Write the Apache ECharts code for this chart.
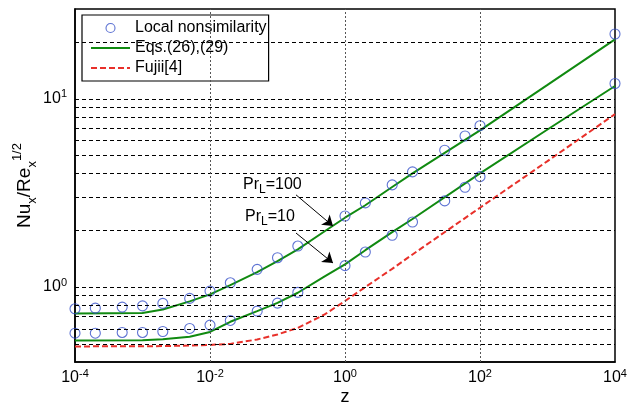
<!DOCTYPE html>
<html><head><meta charset="utf-8">
<script src="https://cdn.jsdelivr.net/npm/echarts@6/dist/echarts.min.js"></script>
<style>html,body{margin:0;padding:0;background:#fff}#c{width:627px;height:406px}</style>
</head><body><div id="c"></div>
<script>
// ---- data ----
const zCurve   = [1e-4, 1e-3, 2e-3, 5e-3, 1e-2, 2e-2, 5e-2, 0.1, 0.2, 0.5, 1, 2, 5, 10, 100, 1000, 10000];
const eqPr100  = [0.725, 0.728, 0.76, 0.84, 0.915, 1.025, 1.20, 1.375, 1.587, 1.98, 2.336, 2.72, 3.40, 4.02, 6.8, 11.85, 20.7];
const eqPr10   = [0.52, 0.522, 0.528, 0.545, 0.578, 0.654, 0.745, 0.825, 0.933, 1.14, 1.32, 1.57, 1.96, 2.3, 4.02, 6.87, 11.7];
const fujii    = [0.484, 0.485, 0.486, 0.489, 0.493, 0.499, 0.527, 0.56, 0.607, 0.716, 0.843, 1.0, 1.25, 1.49, 2.64, 4.67, 8.29];

const zPts     = [1e-4, 2e-4, 5e-4, 1e-3, 2e-3, 5e-3, 1e-2, 2e-2, 5e-2, 0.1, 0.2, 1, 2, 5, 10, 30, 60, 100, 10000];
const locPr100 = [0.767, 0.773, 0.783, 0.795, 0.819, 0.871, 0.952, 1.054, 1.242, 1.432, 1.652, 2.385, 2.80, 3.49, 4.09, 5.33, 6.35, 7.2, 22.1];
const locPr10  = [0.569, 0.569, 0.574, 0.574, 0.581, 0.603, 0.628, 0.665, 0.745, 0.822, 0.937, 1.30, 1.535, 1.884, 2.217, 2.87, 3.39, 3.86, 12.06];

const yGridValues = [0.5, 0.6, 0.7, 0.8, 0.9, 1, 2, 3, 4, 5, 6, 7, 8, 9, 10, 20];
const xGridValues = [1e-2, 1, 1e2];

// arrows: [from(z, Nu), to(z, Nu)]
const arrows = [
  [[0.188, 3.09], [0.664, 2.11]],
  [[0.188, 1.937], [0.664, 1.342]]
];

const FONT = 'Liberation Sans, Arial, Helvetica, sans-serif';
const zip = (xs, ys) => xs.map((x, i) => [x, ys[i]]);

function powLabel(v, evenOnly) {
  const e = Math.log10(v), r = Math.round(e);
  if (Math.abs(e - r) > 1e-6) return '';
  if (evenOnly && r % 2 !== 0) return '';
  return '10{sup|' + r + '}';
}

const chart = echarts.init(document.getElementById('c'), null, {renderer: 'canvas'});
const supRich = {sup: {fontSize: 11, lineHeight: 10, verticalAlign: 'top', fontFamily: FONT, color: '#000'}};
const hideSym = {color: 'transparent', borderWidth: 0, opacity: 0};

chart.setOption({
  animation: false,
  backgroundColor: '#fff',
  textStyle: {fontFamily: FONT},
  grid: {left: 75, right: 12, top: 9, bottom: 44, containLabel: false, outerBoundsMode: 'none',
         show: true, borderColor: '#000', borderWidth: 1.5, backgroundColor: 'transparent'},
  legend: {
    orient: 'vertical', left: 82, top: 15,
    padding: [4, 2, 4, 8], itemGap: 2, itemWidth: 39, itemHeight: 9,
    backgroundColor: '#fff', borderColor: '#000', borderWidth: 1.2,
    textStyle: {fontSize: 16, lineHeight: 18, color: '#000', fontFamily: FONT},
    data: [
      {name: 'Local nonsimilarity', icon: 'circle', itemStyle: {color: 'transparent', borderColor: '#3650c8', borderWidth: 1.1}},
      {name: 'Eqs.(26),(29)', itemStyle: hideSym},
      {name: 'Fujii[4]', itemStyle: hideSym}
    ],
    selectedMode: false
  },
  xAxis: {
    type: 'log', logBase: 10, min: 1e-4, max: 1e4,
    name: 'z', nameLocation: 'middle', nameGap: 26, nameMoveOverlap: false,
    nameTextStyle: {fontSize: 18, color: '#000', fontFamily: FONT},
    axisLine: {lineStyle: {color: '#000', width: 1.5}},
    axisTick: {show: false},
    splitLine: {show: false},
    axisLabel: {
      color: '#000', fontSize: 16, lineHeight: 20, margin: 6, fontFamily: FONT,
      formatter: v => powLabel(v, true), rich: supRich
    }
  },
  yAxis: {
    type: 'log', logBase: 10, min: 0.4, max: 30,
    name: 'Nu{sub|x}/Re{sub|x}{sup|1/2}', nameLocation: 'middle', nameGap: 36, nameMoveOverlap: false,
    nameTextStyle: {
      fontSize: 19, lineHeight: 28, color: '#000', fontFamily: FONT,
      rich: {
        sub: {fontSize: 13, lineHeight: 12, verticalAlign: 'bottom', fontFamily: FONT, color: '#000'},
        sup: {fontSize: 13, lineHeight: 12, verticalAlign: 'top', fontFamily: FONT, color: '#000'}
      }
    },
    axisLine: {lineStyle: {color: '#000', width: 1.5}},
    axisTick: {show: false},
    splitLine: {show: false},
    axisLabel: {
      color: '#000', fontSize: 16, lineHeight: 20, margin: 8, fontFamily: FONT,
      formatter: v => powLabel(v, false), rich: supRich
    }
  },
  series: [
    {
      type: 'line', name: 'grid', data: [], z: 1, silent: true,
      markLine: {
        silent: true, symbol: ['none', 'none'], animation: false,
        label: {show: false}, emphasis: {disabled: true},
        data: yGridValues.map(v => ({yAxis: v, lineStyle: {color: '#000', width: 1, type: [4, 3]}}))
          .concat(xGridValues.map(v => ({xAxis: v, lineStyle: {color: '#555', width: 1, type: [2, 2]}})))
      }
    },
    {
      type: 'line', name: 'arrows', data: [], z: 6, silent: true,
      itemStyle: {color: '#000'},
      markLine: {
        silent: true, symbol: ['none', 'arrow'], symbolSize: 10, animation: false,
        label: {show: false}, emphasis: {disabled: true},
        itemStyle: {color: '#000'},
        lineStyle: {color: '#000', width: 1, type: 'solid'},
        data: arrows.map(a => [{coord: a[0]}, {coord: a[1]}])
      }
    },
    {
      type: 'line', name: 'Eqs.(26),(29)', data: zip(zCurve, eqPr100), symbol: 'none', z: 3,
      lineStyle: {color: '#108a10', width: 2}, itemStyle: {color: '#108a10'}
    },
    {
      type: 'line', name: 'Eqs.(26),(29)', data: zip(zCurve, eqPr10), symbol: 'none', z: 3,
      lineStyle: {color: '#108a10', width: 2}, itemStyle: {color: '#108a10'}
    },
    {
      type: 'line', name: 'Fujii[4]', data: zip(zCurve, fujii), symbol: 'none', z: 3,
      lineStyle: {color: '#e8302a', width: 2, type: [6, 3]}, itemStyle: {color: '#e8302a'}
    },
    {
      type: 'scatter', name: 'Local nonsimilarity', data: zip(zPts, locPr100), symbol: 'circle', symbolSize: 10, z: 4,
      itemStyle: {color: 'transparent', borderColor: '#3650c8', borderWidth: 1.1}
    },
    {
      type: 'scatter', name: 'Local nonsimilarity', data: zip(zPts, locPr10), symbol: 'circle', symbolSize: 10, z: 4,
      itemStyle: {color: 'transparent', borderColor: '#3650c8', borderWidth: 1.1}
    }
  ],
  graphic: [
    {type: 'text', left: 243, top: 174, z: 10, style: {
      text: 'Pr{sub|L}=100', fontSize: 16, lineHeight: 22, fontFamily: FONT, fill: '#000',
      rich: {sub: {fontSize: 12, lineHeight: 10, verticalAlign: 'bottom', fontFamily: FONT, fill: '#000'}}
    }},
    {type: 'text', left: 245, top: 206, z: 10, style: {
      text: 'Pr{sub|L}=10', fontSize: 16, lineHeight: 22, fontFamily: FONT, fill: '#000',
      rich: {sub: {fontSize: 12, lineHeight: 10, verticalAlign: 'bottom', fontFamily: FONT, fill: '#000'}}
    }}
  ]
});
</script></body></html>
